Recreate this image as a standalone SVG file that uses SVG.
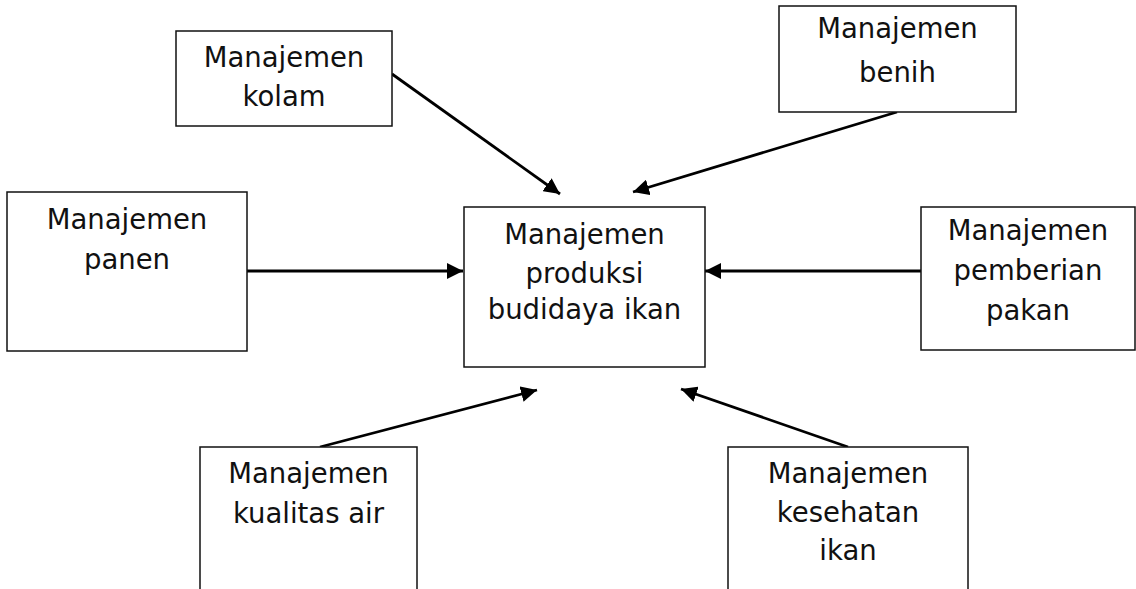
<svg xmlns="http://www.w3.org/2000/svg" width="1136" height="589" viewBox="0 0 1136 589">
  <style>
    .box { fill: #ffffff; stroke: #111111; stroke-width: 1.5; }
    .label { font-family: "DejaVu Sans", "Liberation Sans", sans-serif; font-size: 27.5px; fill: #111111; text-anchor: middle; }
    .link { stroke: #000000; stroke-width: 2.8; fill: none; marker-end: url(#head); }
  </style>
  <defs>
    <marker id="head" markerUnits="userSpaceOnUse" markerWidth="16" markerHeight="16" viewBox="0 0 16 16" refX="16" refY="8" orient="auto">
      <path d="M0,0 L16,8 L0,16 Z" fill="#000000"/>
    </marker>
  </defs>

  <rect width="1136" height="589" fill="#ffffff"/>

  <!-- connectors -->
  <g id="connectors">
    <line class="link" x1="392" y1="74" x2="560" y2="194"/>
    <line class="link" x1="897" y1="112" x2="633" y2="192"/>
    <line class="link" x1="247" y1="271" x2="463" y2="271"/>
    <line class="link" x1="921" y1="271" x2="705" y2="271"/>
    <line class="link" x1="320" y1="447" x2="537" y2="390"/>
    <line class="link" x1="848" y1="447" x2="681" y2="389"/>
  </g>

  <g id="node-kolam">
    <rect class="box" x="176" y="31" width="216" height="95"/>
    <text class="label" x="284" y="67">Manajemen</text>
    <text class="label" x="284" y="106">kolam</text>
  </g>

  <g id="node-benih">
    <rect class="box" x="779" y="6" width="237" height="106"/>
    <text class="label" x="897.5" y="38">Manajemen</text>
    <text class="label" x="897.5" y="82">benih</text>
  </g>

  <g id="node-panen">
    <rect class="box" x="7" y="192" width="240" height="159"/>
    <text class="label" x="127" y="229">Manajemen</text>
    <text class="label" x="127" y="269">panen</text>
  </g>

  <g id="node-produksi">
    <rect class="box" x="464" y="207" width="241" height="160"/>
    <text class="label" x="584.5" y="244">Manajemen</text>
    <text class="label" x="584.5" y="283">produksi</text>
    <text class="label" x="584.5" y="319">budidaya ikan</text>
  </g>

  <g id="node-pakan">
    <rect class="box" x="921" y="207" width="214" height="143"/>
    <text class="label" x="1028" y="240">Manajemen</text>
    <text class="label" x="1028" y="280">pemberian</text>
    <text class="label" x="1028" y="320">pakan</text>
  </g>

  <g id="node-kualitas-air">
    <rect class="box" x="200" y="447" width="217" height="160"/>
    <text class="label" x="308.5" y="483">Manajemen</text>
    <text class="label" x="308.5" y="523">kualitas air</text>
  </g>

  <g id="node-kesehatan">
    <rect class="box" x="728" y="447" width="240" height="160"/>
    <text class="label" x="848" y="483">Manajemen</text>
    <text class="label" x="848" y="522">kesehatan</text>
    <text class="label" x="848" y="560">ikan</text>
  </g>
</svg>
